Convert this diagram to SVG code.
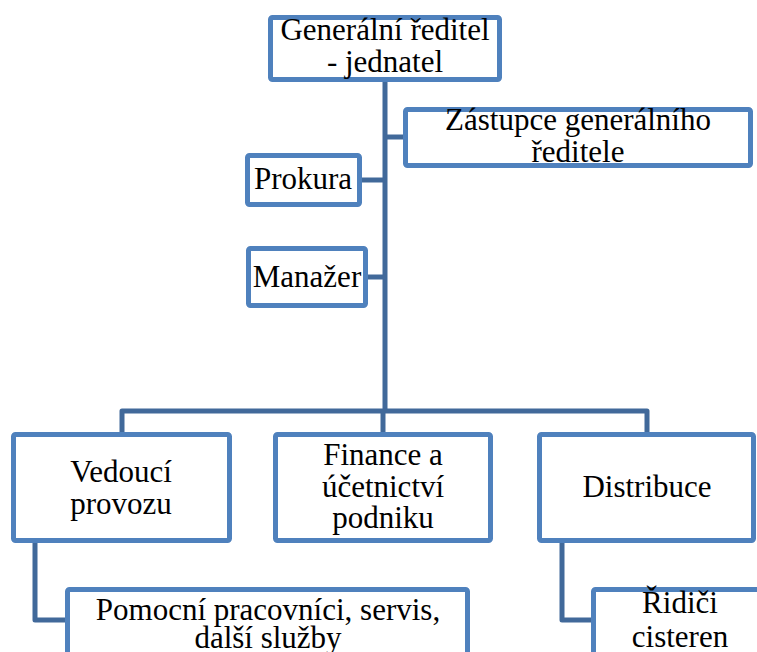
<svg xmlns="http://www.w3.org/2000/svg" width="757" height="652" viewBox="0 0 757 652">
<style>
.box{fill:#fff;stroke:#4F81BD;stroke-width:5}
.con{fill:none;stroke:#41699A;stroke-width:5;stroke-linejoin:round}
text{font-family:"Times New Roman","DejaVu Serif",serif;font-size:31px;fill:#000;text-anchor:middle}
</style>
<rect width="757" height="652" fill="#fff"/>
<g id="connectors">
<path class="con" d="M385 82V411"/>
<path class="con" d="M385 137H405"/>
<path class="con" d="M362 180H385"/>
<path class="con" d="M368 277H385"/>
<path class="con" d="M122 432V411H647V432"/>
<path class="con" d="M383 411V432"/>
<path class="con" d="M35 543V620H67"/>
<path class="con" d="M562 543V620H593"/>
</g>
<g id="n-general">
<rect class="box" x="270.5" y="17.5" width="229" height="62" rx="2"/>
<text x="385" y="40">Generální ředitel</text>
<text x="385" y="72">- jednatel</text>
</g>
<g id="n-zastupce">
<rect class="box" x="405.5" y="109.5" width="345" height="56" rx="2"/>
<text x="578" y="130">Zástupce generálního</text>
<text x="578" y="162">ředitele</text>
</g>
<g id="n-prokura">
<rect class="box" x="247.5" y="155.5" width="112" height="49" rx="2"/>
<text x="303" y="189">Prokura</text>
</g>
<g id="n-manazer">
<rect class="box" x="248.5" y="248.5" width="117" height="57" rx="2"/>
<text x="307" y="287">Manažer</text>
</g>
<g id="n-vedouci">
<rect class="box" x="13.5" y="434.5" width="216" height="106" rx="2"/>
<text x="121" y="482">Vedoucí</text>
<text x="121" y="514">provozu</text>
</g>
<g id="n-finance">
<rect class="box" x="275.5" y="434.5" width="215" height="106" rx="2"/>
<text x="383" y="465">Finance a</text>
<text x="383" y="497">účetnictví</text>
<text x="383" y="528">podniku</text>
</g>
<g id="n-distribuce">
<rect class="box" x="539.5" y="434.5" width="214" height="106" rx="2"/>
<text x="647" y="497">Distribuce</text>
</g>
<g id="n-pomocni">
<rect class="box" x="67.5" y="589.5" width="400" height="80" rx="2"/>
<text x="268" y="620">Pomocní pracovníci, servis,</text>
<text x="268" y="648">další služby</text>
</g>
<g id="n-ridici">
<rect class="box" x="593.5" y="589.5" width="174" height="80" rx="2"/>
<text x="680" y="613">Řidiči</text>
<text x="680" y="647">cisteren</text>
</g>
</svg>
